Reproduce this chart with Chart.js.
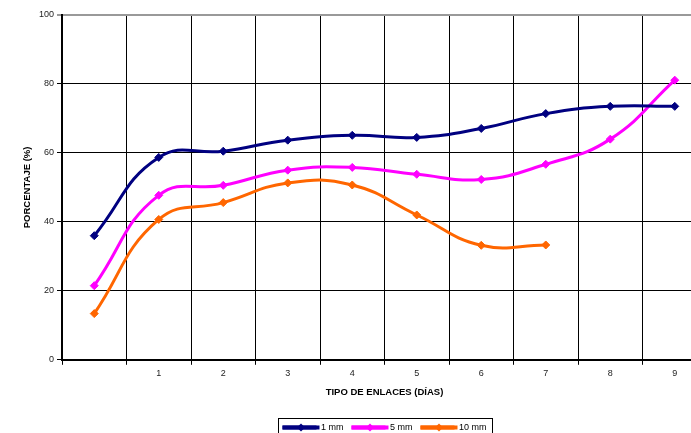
<!DOCTYPE html>
<html>
<head>
<meta charset="utf-8">
<script src="https://cdn.jsdelivr.net/npm/chart.js@4"></script>
<style>
  html, body { margin: 0; padding: 0; background: #fff; overflow: hidden; }
  #wrap { width: 691px; height: 433px; overflow: hidden; }
  canvas { display: block; }
</style>
</head>
<body>
<div id="wrap"><canvas id="myChart" width="720" height="443"></canvas></div>
<script>
"use strict";

// categories (first point has no label)
const dias = ["", "1", "2", "3", "4", "5", "6", "7", "8", "9"];

// series values
const mm1 = [36.0, 58.7, 60.5, 63.7, 65.1, 64.5, 67.1, 71.4, 73.5, 73.5];
const mm5 = [21.5, 47.7, 50.6, 55.0, 55.8, 53.8, 52.3, 56.7, 64.0, 81.1];
const mm10 = [13.4, 40.7, 45.6, 51.3, 50.7, 42.0, 33.2, 33.3, null, null];

const seriesNames = ["1 mm", "5 mm", "10 mm"];
const seriesColors = ["#000080", "#FF00FF", "#FF6600"];

const fontFam = "Arial, 'Liberation Sans', sans-serif";

function makeSet(label, values, color) {
    return {
        label: label,
        data: values,
        borderColor: color,
        backgroundColor: color,
        borderWidth: 3,
        tension: 0.45,
        pointStyle: "rectRot",
        pointRadius: 4,
        pointBorderWidth: 1,
        pointHoverRadius: 4,
        spanGaps: false
    };
}

// centre the legend under the plot area, not the whole canvas
// (the legend plugin recomputes its hit boxes afterwards)
const legendShift = {
    id: "legendShift",
    afterLayout(chart) {
        const lg = chart.legend;
        const area = chart.chartArea;
        const shift = (area.left + area.right) / 2 - (lg.left + lg.right) / 2;
        lg.left += shift;
        lg.right += shift;
    }
};

// excel-like legend keys: line + diamond, and a box round the legend
const legendDeco = {
    id: "legendDeco",
    afterDraw(chart) {
        const lg = chart.legend;
        if (!lg || !lg.legendHitBoxes) return;
        const c = chart.ctx;
        const boxes = lg.legendHitBoxes;
        let l = Infinity, r = -Infinity, t = Infinity, b = -Infinity;
        boxes.forEach((h, i) => {
            l = Math.min(l, h.left); r = Math.max(r, h.left + h.width);
            t = Math.min(t, h.top); b = Math.max(b, h.top + h.height);
            const cy = h.top + h.height / 2;
            const x0 = h.left, x1 = h.left + 37;
            const cx = (x0 + x1) / 2;
            c.save();
            c.fillStyle = seriesColors[i];
            c.fillRect(x0, cy - 2, x1 - x0, 4);
            c.beginPath();
            c.moveTo(cx, cy - 4); c.lineTo(cx + 4, cy); c.lineTo(cx, cy + 4); c.lineTo(cx - 4, cy);
            c.closePath(); c.fill();
            c.restore();
        });
        c.save();
        c.strokeStyle = "#000";
        c.lineWidth = 1;
        c.strokeRect(Math.round(l) - 3.5, Math.round(t) - 4.5, Math.round(r - l) + 10, Math.round(b - t) + 8);
        c.restore();
    }
};

const ctx = document.getElementById("myChart").getContext("2d");

let config = {
    type: "line",
    data: {
        labels: dias,
        datasets: [
            makeSet(seriesNames[0], mm1, seriesColors[0]),
            makeSet(seriesNames[1], mm5, seriesColors[1]),
            makeSet(seriesNames[2], mm10, seriesColors[2])
        ]
    },
    options: {
        responsive: false,
        animation: false,
        devicePixelRatio: 1,
        layout: { padding: { left: 18, right: 13, top: 15, bottom: 1 } },
        plugins: {
            tooltip: { enabled: false },
            legend: {
                position: "bottom",
                labels: {
                    boxWidth: 34,
                    boxHeight: 4,
                    padding: 8,
                    color: "#000",
                    font: { family: fontFam, size: 9 },
                    generateLabels(chart) {
                        return chart.data.datasets.map((ds, i) => ({
                            text: ds.label,
                            fillStyle: ds.borderColor,
                            strokeStyle: ds.borderColor,
                            lineWidth: 0,
                            hidden: false,
                            datasetIndex: i,
                            fontColor: "#000"
                        }));
                    }
                }
            }
        },
        scales: {
            x: {
                offset: true,
                grid: { offset: true, color: "#000", lineWidth: 1, tickLength: 5, drawTicks: true },
                border: { color: "#000", width: 2 },
                ticks: { color: "#222", padding: 3, maxRotation: 0, autoSkip: false, font: { family: fontFam, size: 9 } },
                title: {
                    display: true,
                    text: "TIPO DE ENLACES (DÍAS)",
                    color: "#000",
                    padding: { top: 5, bottom: 17 },
                    font: { family: fontFam, size: 9.5, weight: "bold" }
                }
            },
            y: {
                min: 0,
                max: 100,
                grid: {
                    color: (c) => (c.tick && c.tick.value === 100 ? "#999" : "#000"),
                    lineWidth: (c) => (c.tick && c.tick.value === 100 ? 2 : 1),
                    tickLength: 5
                },
                border: { color: "#000", width: 2 },
                ticks: { stepSize: 20, color: "#222", padding: 3, font: { family: fontFam, size: 9 } },
                title: {
                    display: true,
                    text: "PORCENTAJE (%)",
                    color: "#000",
                    padding: { top: 4, bottom: 4 },
                    font: { family: fontFam, size: 9.5, weight: "bold" }
                },
                afterFit(scale) { scale.width = 44; }
            }
        }
    },
    plugins: [legendShift, legendDeco]
};

let myChart = new Chart(ctx, config);
</script>
</body>
</html>
